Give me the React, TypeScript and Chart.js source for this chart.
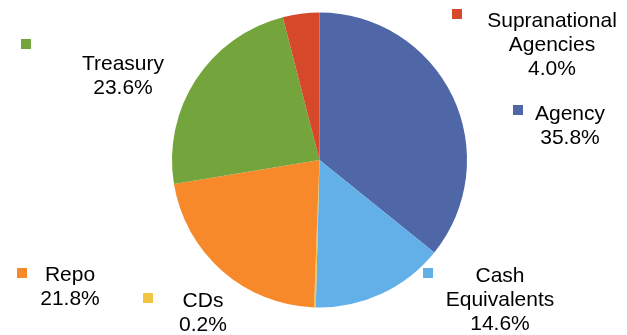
import React, { useEffect, useRef } from "react";
import { Chart, registerables } from "chart.js";

Chart.register(...registerables);

const categories = ["Agency", "Cash Equivalents", "CDs", "Repo", "Treasury", "Supranational Agencies"];
const values = [35.8, 14.6, 0.2, 21.8, 23.6, 4.0];
const colors = ["#4F67A7", "#63B0E8", "#F3C443", "#F7892A", "#74A53C", "#D5482A"];
const labelLines = [
  ["Agency"],
  ["Cash", "Equivalents"],
  ["CDs"],
  ["Repo"],
  ["Treasury"],
  ["Supranational", "Agencies"],
];

// label layout: square (x,y), text center x, first baseline y
const labelLayout = [
  { sx: 513, sy: 105, tx: 570, by: 120 },
  { sx: 423, sy: 268, tx: 500, by: 282 },
  { sx: 143, sy: 293, tx: 203, by: 307 },
  { sx: 17, sy: 268, tx: 70, by: 281 },
  { sx: 21, sy: 39, tx: 123, by: 70 },
  { sx: 452, sy: 9, tx: 552, by: 27 },
];

const labelPlugin = {
  id: "customLabels",
  afterDraw(chart: any) {
    const ctx = chart.ctx;
    ctx.save();
    ctx.font = '21px "Liberation Sans", Arial, sans-serif';
    ctx.textAlign = "center";
    ctx.textBaseline = "alphabetic";
    const lineH = 24;
    categories.forEach((_, i) => {
      const L = labelLayout[i];
      ctx.fillStyle = colors[i];
      ctx.fillRect(L.sx, L.sy, 10, 10);
      ctx.fillStyle = "#000";
      const lines = [...labelLines[i], values[i].toFixed(1) + "%"];
      lines.forEach((t, k) => {
        ctx.fillText(t, L.tx, L.by + k * lineH);
      });
    });
    ctx.restore();
  },
};

export default function App() {
  const ref = useRef<HTMLCanvasElement>(null);
  useEffect(() => {
    document.body.style.margin = "0";
    const chart = new Chart(ref.current!, {
      type: "pie",
      data: {
        labels: categories,
        datasets: [
          {
            data: values,
            backgroundColor: colors,
            borderWidth: 0,
          },
        ],
      },
      options: {
        animation: false,
        responsive: false,
        layout: { padding: { top: 12.5, bottom: 27.5, left: 12, right: 0 } },
        plugins: {
          legend: { display: false },
          tooltip: { enabled: false },
        },
      },
      plugins: [labelPlugin],
    });
    return () => chart.destroy();
  }, []);
  return (
    <div style={{ width: 627, height: 335 }}>
      <canvas ref={ref} width={627} height={335} style={{ display: "block" }} />
    </div>
  );
}
